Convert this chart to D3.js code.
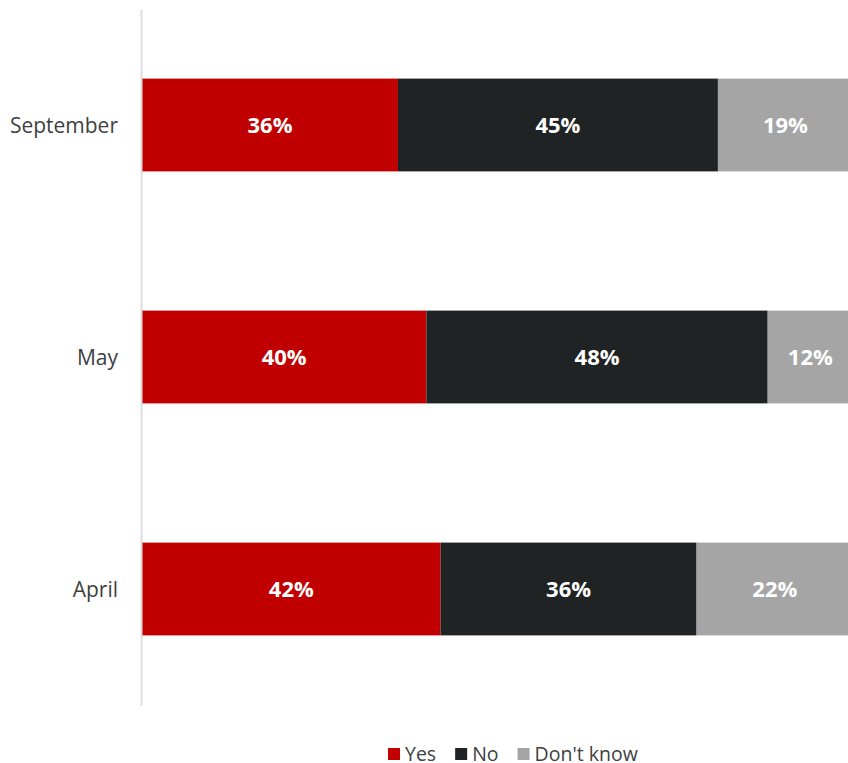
<!DOCTYPE html>
<html>
<head>
<meta charset="utf-8">
<script src="https://cdn.jsdelivr.net/npm/d3@7"></script>
<style>
  html, body { margin: 0; padding: 0; background: #ffffff; }
  svg { display: block; font-family: "Open Sans", "Noto Sans", sans-serif; }
</style>
</head>
<body>
<div id="chart"></div>
<script>
// Survey waves, top to bottom
const months = ["September", "May", "April"];
// Share of answers per wave (%)
const yesValues = [36, 40, 42];
const noValues = [45, 48, 36];
const dontKnowValues = [19, 12, 22];
const seriesNames = ["Yes", "No", "Don't know"];
const seriesColors = ["#c00000", "#1f2323", "#a5a5a5"];

const width = 848, height = 763;
const margin = { top: 9, left: 142, bottom: 58 };

const svg = d3.select("#chart").append("svg")
  .attr("width", width).attr("height", height);

const rows = months.map((m, i) => ({
  month: m,
  "Yes": yesValues[i],
  "No": noValues[i],
  "Don't know": dontKnowValues[i]
}));

const stack = d3.stack().keys(seriesNames);
const layers = stack(rows);

const x = d3.scaleLinear().domain([0, 100]).range([margin.left, 853]);
const y = d3.scaleBand().domain(months)
  .range([margin.top, height - margin.bottom])
  .paddingInner(0.6).paddingOuter(0.3);

// Bars with centred value labels
const g = svg.append("g");
layers.forEach((layer, si) => {
  g.selectAll(null).data(layer).enter().append("rect")
    .attr("x", d => x(d[0]))
    .attr("y", d => y(d.data.month))
    .attr("width", d => x(d[1]) - x(d[0]))
    .attr("height", y.bandwidth())
    .attr("fill", seriesColors[si]);
  g.selectAll(null).data(layer).enter().append("text")
    .attr("x", d => (x(d[0]) + x(d[1])) / 2)
    .attr("y", d => y(d.data.month) + y.bandwidth() / 2)
    .attr("dy", "0.36em")
    .attr("text-anchor", "middle")
    .attr("fill", "#ffffff")
    .attr("font-weight", "bold")
    .attr("font-size", "22px")
    .text(d => (d[1] - d[0]) + "%");
});

// Category axis
const axis = svg.append("g")
  .attr("transform", `translate(${margin.left - 1},0)`)
  .call(d3.axisLeft(y).tickSize(0).tickPadding(23));
axis.select(".domain").attr("stroke", "#dcdedf").attr("stroke-width", 2);
axis.selectAll("text")
  .attr("font-family", "'Open Sans', sans-serif")
  .attr("font-size", "21px")
  .attr("dy", "0.36em")
  .attr("fill", "#404040");

// Legend
const legend = svg.append("g").attr("transform", "translate(0,754)");
let lx = 388;
seriesNames.forEach((name, i) => {
  const item = legend.append("g").attr("transform", `translate(${lx},0)`);
  item.append("rect").attr("x", 0).attr("y", -6).attr("width", 12).attr("height", 12)
    .attr("fill", seriesColors[i]);
  const t = item.append("text").attr("x", 17).attr("dy", "0.35em")
    .attr("font-size", "19.5px").attr("fill", "#404040").text(name);
  lx += 17 + t.node().getComputedTextLength() + 19;
});
</script>
</body>
</html>
